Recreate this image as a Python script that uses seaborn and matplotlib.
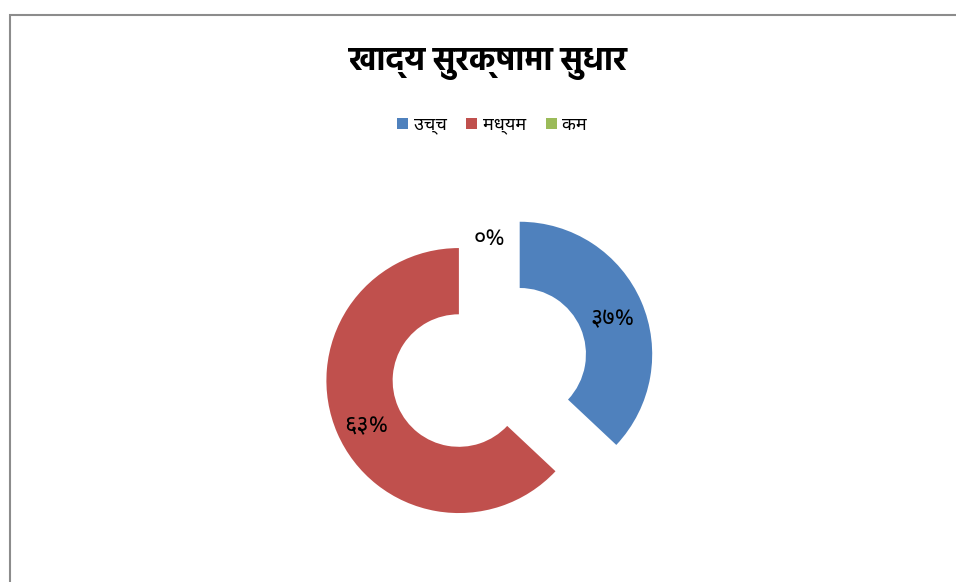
import matplotlib
matplotlib.use("Agg")
import matplotlib.pyplot as plt
from matplotlib import font_manager
from matplotlib.patches import Rectangle, Patch
import seaborn as sns

categories = ["उच्च", "मध्यम", "कम"]
values = [37, 63, 0]
title = "खाद्य सुरक्षामा सुधार"

sns.set_theme(style="white")
colors = ["#4F81BD", "#C0504D", "#9BBB59"]

# pick installed Devanagari families (one with a real bold face for the title)
prefs = ["Noto Sans Devanagari", "Hind", "Mukta", "Poppins", "Annapurna SIL", "Amiko", "Biryani"]
entries = font_manager.fontManager.ttflist
names = {f.name for f in entries}
bold_names = {f.name for f in entries if (f.weight if isinstance(f.weight, int) else 400) >= 700}
deva = next((n for n in prefs if n in names), "DejaVu Sans")
deva_bold = next((n for n in prefs if n in bold_names), deva)
plt.rcParams["font.family"] = [deva, "DejaVu Sans"]
plt.rcParams["text.color"] = "black"

DIGITS = str.maketrans("0123456789", "०१२३४५६७८९")


def to_deva(pct):
    return "{:.0f}%".format(pct).translate(DIGITS)


fig = plt.figure(figsize=(9.56, 5.82), dpi=100)
W, H = 956, 582

# outer chart frame
fig.patches.append(Rectangle((10 / W, -0.1), 1.2, 1.1 - 15 / H, transform=fig.transFigure,
                             fill=False, edgecolor="#8c8c8c", linewidth=1.5))

# axes square around the pie centre
cx, cy, R = 489.3, 582 - 367.4, 132.5
half = 200
ax = fig.add_axes([(cx - half) / W, (cy - half) / H, 2 * half / W, 2 * half / H])
wedges, texts, autotexts = ax.pie(values, colors=colors, startangle=90, counterclock=False,
                                  explode=[0.25, 0.25, 0.25], autopct=to_deva, pctdistance=0.76,
                                  wedgeprops=dict(width=0.5, linewidth=0),
                                  textprops=dict(fontsize=17, color="black"))
for t in autotexts:
    t.set_y(t.get_position()[1] - 0.04)
lim = half / R
ax.set_xlim(-lim, lim)
ax.set_ylim(-lim, lim)
ax.set_aspect("equal")
ax.axis("off")

fig.text(488 / W, 1 - 64 / H, title, ha="center", va="center", fontsize=23.5,
         fontweight="bold", family=[deva_bold, "DejaVu Sans"], color="black")

handles = [Patch(facecolor=c, edgecolor="none") for c in colors]
fig.legend(handles, categories, loc="center", bbox_to_anchor=(492 / W, 1 - 125 / H), ncol=3,
           frameon=False, fontsize=13, handlelength=0.6, handleheight=0.6, handletextpad=0.3,
           columnspacing=1.1)

fig.savefig("out.png", dpi=100)
